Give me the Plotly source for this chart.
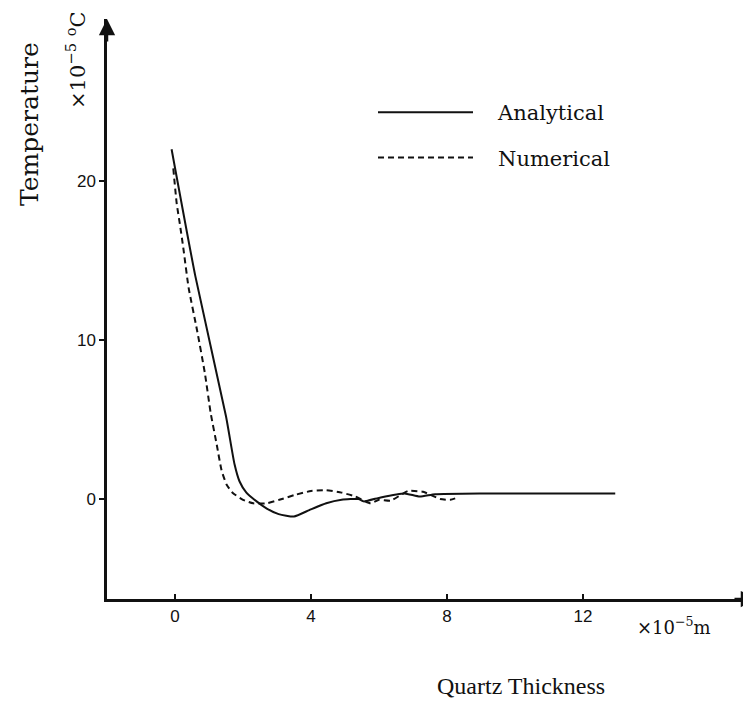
import plotly.graph_objects as go

# ---- data (x in 1e-5 m, temperature in 1e-5 °C) ----
analytical_x = [-0.1, 0.6, 1.5, 1.75, 1.9, 2.1, 2.4, 2.7, 3.05, 3.5, 3.95, 4.45, 4.9, 5.4, 5.55, 6.05, 6.75, 7.2, 7.65, 9.0, 12.95]
analytical_y = [22.0, 14.0, 5.2, 2.2, 1.1, 0.4, -0.15, -0.6, -0.95, -1.1, -0.7, -0.27, -0.05, 0.0, -0.15, 0.1, 0.35, 0.15, 0.3, 0.35, 0.35]

numerical_x = [-0.05, 0.05, 0.15, 0.25, 0.4, 0.65, 0.88, 1.05, 1.23, 1.37, 1.52, 1.7, 2.0, 2.3, 2.7, 3.07, 3.55, 4.0, 4.45, 4.9, 5.3, 5.75, 6.0, 6.35, 6.85, 7.3, 7.8, 8.1, 8.35]
numerical_y = [20.8, 18.6, 17.2, 15.7, 13.3, 10.6, 7.9, 5.4, 3.4, 1.8, 0.9, 0.38, -0.05, -0.27, -0.27, -0.05, 0.27, 0.5, 0.55, 0.4, 0.16, -0.27, -0.05, -0.1, 0.5, 0.45, 0.0, -0.05, 0.12]

x_ticks = [0, 4, 8, 12]
y_ticks = [0, 10, 20]

W, H = 751, 701
ML, MR, MT, MB = 99, 2, 11, 110
PW, PH = W - ML - MR, H - MT - MB

def px(xp):
    return (xp - ML) / PW

def py(yp):
    return (H - MB - yp) / PH

INK = "#111111"
SERIF = "Liberation Serif"
WIDE = "DejaVu Serif"
NB = "\u00a0"

fig = go.Figure()
fig.add_trace(go.Scatter(x=analytical_x, y=analytical_y, mode="lines", name=NB * 3 + "Analytical",
                         legendgroup="a",
                         line=dict(color=INK, width=2, shape="spline", smoothing=0.5)))
fig.add_trace(go.Scatter(x=numerical_x, y=numerical_y, mode="lines", name=NB * 3 + "Numerical",
                         legendgroup="b",
                         line=dict(color=INK, width=2, dash="6px,4px", shape="spline", smoothing=0.5)))

fig.update_layout(
    width=W, height=H,
    margin=dict(l=ML, r=MR, t=MT, b=MB),
    paper_bgcolor="white", plot_bgcolor="white",
    showlegend=True,
    legend=dict(x=px(365), y=py(84), xanchor="left", yanchor="top",
                font=dict(family=WIDE, size=21, color=INK), traceorder="grouped",
                bgcolor="rgba(0,0,0,0)", itemwidth=95, tracegroupgap=15),
    xaxis=dict(range=[-2.0, 17.12], tickvals=x_ticks, ticktext=[str(v) for v in x_ticks],
               showgrid=False, zeroline=False, showline=True, linecolor=INK, linewidth=2.5,
               ticks="inside", ticklen=5, tickwidth=1.5, tickcolor=INK,
               tickfont=dict(family="Liberation Sans", size=17, color=INK)),
    yaxis=dict(range=[-6.29, 30.19], tickvals=y_ticks, ticktext=[str(v) for v in y_ticks],
               showgrid=False, zeroline=False, showline=True, linecolor=INK, linewidth=2.5,
               ticks="outside", ticklen=5, tickwidth=1.5, tickcolor=INK,
               tickfont=dict(family="Liberation Sans", size=17, color=INK)),
)

ann = []
# axis arrows
ann.append(dict(xref="paper", yref="paper", x=1, y=0, ax=-24, ay=0, showarrow=True,
                arrowhead=2, arrowsize=1.3, arrowwidth=2.5, arrowcolor=INK, text=""))
ann.append(dict(xref="paper", yref="paper", x=0, y=1, ax=0, ay=24, showarrow=True,
                arrowhead=2, arrowsize=1.3, arrowwidth=2.5, arrowcolor=INK, text=""))
# axis titles and units
ann.append(dict(xref="paper", yref="paper", x=px(22), y=py(116), text="Temperature", textangle=-90,
                xanchor="center", yanchor="middle",
                showarrow=False, font=dict(family=WIDE, size=25, color=INK)))
ann.append(dict(xref="paper", yref="paper", x=px(68), y=py(52), text="×10<sup>−5</sup> <sup>o</sup>C",
                xanchor="center", yanchor="middle",
                textangle=-90, showarrow=False, font=dict(family=WIDE, size=21, color=INK)))
ann.append(dict(xref="paper", yref="paper", x=px(666), y=py(618), text="×10<sup>−5</sup>m",
                xanchor="center", yanchor="middle",
                showarrow=False, font=dict(family=WIDE, size=18, color=INK)))
ann.append(dict(xref="paper", yref="paper", x=px(513), y=py(678), text="Quartz Thickness",
                xanchor="center", yanchor="middle",
                showarrow=False, font=dict(family=SERIF, size=24, color=INK)))
fig.update_layout(annotations=ann)

fig.write_html("out.html")
